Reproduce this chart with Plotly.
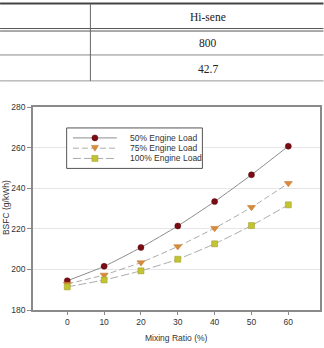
import plotly.graph_objects as go

# ---- data ----
mixing_ratio = [0, 10, 20, 30, 40, 50, 60]
load_50 = [194.4, 201.5, 210.8, 221.4, 233.4, 246.6, 260.7]
load_75 = [192.8, 197.3, 203.4, 211.3, 220.3, 230.6, 242.4]
load_100 = [191.4, 194.8, 199.3, 205.0, 212.6, 221.6, 231.8]
series_names = ["50% Engine Load", "75% Engine Load", "100% Engine Load"]
table_header = "Hi-sene"
table_values = ["800", "42.7"]
x_ticks = [0, 10, 20, 30, 40, 50, 60]
y_ticks = [180, 200, 220, 240, 260, 280]

# ---- layout geometry (pixels) ----
W, H = 324, 348
L, R, T, B = 33, 320.5, 106.7, 310.3


def px(x):
    return (x - L) / (R - L)


def py(y):
    return (B - y) / (B - T)


styles = [
    dict(color="#7a0c14", symbol="circle", size=6, line_color="#8c8c8c", dash="solid", edge="#5a0008"),
    dict(color="#d98b3c", symbol="triangle-down", size=7, line_color="#ababab", dash="6px,3px", edge="#c07020"),
    dict(color="#c2c432", symbol="square", size=6, line_color="#ababab", dash="8px,3px", edge="#9a9a20"),
]

fig = go.Figure()
for name, ys, st in zip(series_names, [load_50, load_75, load_100], styles):
    fig.add_trace(go.Scatter(
        x=mixing_ratio, y=ys, name=name, mode="lines+markers",
        line=dict(color=st["line_color"], width=1, dash=st["dash"], shape="spline", smoothing=0.5),
        marker=dict(symbol=st["symbol"], size=st["size"], color=st["color"],
                    line=dict(color=st["edge"], width=0.5)),
        showlegend=False,
    ))

shapes = []
annotations = []

# ---- table on top ----
x0p, x1p = px(0), px(W)
shapes.append(dict(type="line", xref="paper", yref="paper", x0=x0p, x1=x1p, y0=py(3), y1=py(3),
                   line=dict(color="#444", width=2)))
shapes.append(dict(type="line", xref="paper", yref="paper", x0=x0p, x1=x1p, y0=py(28), y1=py(28),
                   line=dict(color="#555", width=1)))
shapes.append(dict(type="line", xref="paper", yref="paper", x0=x0p, x1=x1p, y0=py(30.5), y1=py(30.5),
                   line=dict(color="#555", width=1)))
shapes.append(dict(type="line", xref="paper", yref="paper", x0=x0p, x1=x1p, y0=py(54.5), y1=py(54.5),
                   line=dict(color="#888", width=1)))
shapes.append(dict(type="line", xref="paper", yref="paper", x0=x0p, x1=x1p, y0=py(80.5), y1=py(80.5),
                   line=dict(color="#999", width=1)))
shapes.append(dict(type="line", xref="paper", yref="paper", x0=px(90.5), x1=px(90.5), y0=py(3), y1=py(80.5),
                   line=dict(color="#666", width=1)))
for txt, yy in zip([table_header] + table_values, [16, 43, 68.3]):
    annotations.append(dict(text=txt, xref="paper", yref="paper", x=px(208), y=py(yy),
                            showarrow=False, xanchor="center", yanchor="middle",
                            font=dict(family="Liberation Serif", size=11.5, color="#222")))

# ---- manual legend ----
shapes.append(dict(type="rect", xref="paper", yref="paper", x0=px(66.7), x1=px(202.7),
                   y0=py(127.7), y1=py(168.3), line=dict(color="#555", width=1), fillcolor="white"))
leg_y = [137.7, 148, 158.3]
mx = 95
for name, yy, st in zip(series_names, leg_y, styles):
    shapes.append(dict(type="line", xref="paper", yref="paper", x0=px(73), x1=px(117), y0=py(yy), y1=py(yy),
                       line=dict(color=st["line_color"], width=1, dash=st["dash"])))
    if st["symbol"] == "circle":
        shapes.append(dict(type="circle", xref="paper", yref="paper", x0=px(mx - 3), x1=px(mx + 3),
                           y0=py(yy + 3), y1=py(yy - 3), fillcolor=st["color"],
                           line=dict(color=st["edge"], width=0.5)))
    elif st["symbol"] == "square":
        shapes.append(dict(type="rect", xref="paper", yref="paper", x0=px(mx - 3), x1=px(mx + 3),
                           y0=py(yy + 3), y1=py(yy - 3), fillcolor=st["color"],
                           line=dict(color=st["edge"], width=0.5)))
    else:
        path = "M {a},{b} L {c},{b} L {d},{e} Z".format(
            a=px(mx - 3.5), c=px(mx + 3.5), b=py(yy - 2.8), d=px(mx), e=py(yy + 3))
        shapes.append(dict(type="path", xref="paper", yref="paper", path=path, fillcolor=st["color"],
                           line=dict(color=st["edge"], width=0.5)))
    annotations.append(dict(text=name, xref="paper", yref="paper", x=px(128), y=py(yy),
                            showarrow=False, xanchor="left", yanchor="middle",
                            font=dict(family="Liberation Sans", size=8.5, color="#333")))

# ---- axis titles ----
annotations.append(dict(text="Mixing Ratio (%)", xref="paper", yref="paper", x=px(177), y=py(338),
                        showarrow=False, xanchor="center", yanchor="middle",
                        font=dict(family="Liberation Sans", size=8.5, color="#333")))
annotations.append(dict(text="BSFC (g/kWh)", xref="paper", yref="paper", x=px(6), y=py(208),
                        showarrow=False, xanchor="center", yanchor="middle", textangle=-90,
                        font=dict(family="Liberation Sans", size=8.5, color="#333")))

fig.update_layout(
    width=W, height=H,
    margin=dict(l=L, r=W - R, t=T, b=H - B, pad=0),
    paper_bgcolor="white", plot_bgcolor="white",
    shapes=shapes, annotations=annotations,
    xaxis=dict(range=[-9.3, 68.6], tickvals=x_ticks, showgrid=False, zeroline=False,
               showline=True, linecolor="#8a8a8a", linewidth=1.5, mirror=True,
               ticks="outside", ticklen=3, tickcolor="#8a8a8a",
               tickfont=dict(family="Liberation Sans", size=8.5, color="#333")),
    yaxis=dict(range=[180, 280], tickvals=y_ticks, showgrid=True, gridcolor="#e6e6e6", gridwidth=1,
               zeroline=False, showline=True, linecolor="#8a8a8a", linewidth=1.5, mirror=True,
               ticks="outside", ticklen=4, tickcolor="#8a8a8a",
               tickfont=dict(family="Liberation Sans", size=8.5, color="#333")),
)

fig.write_html("out.html")
